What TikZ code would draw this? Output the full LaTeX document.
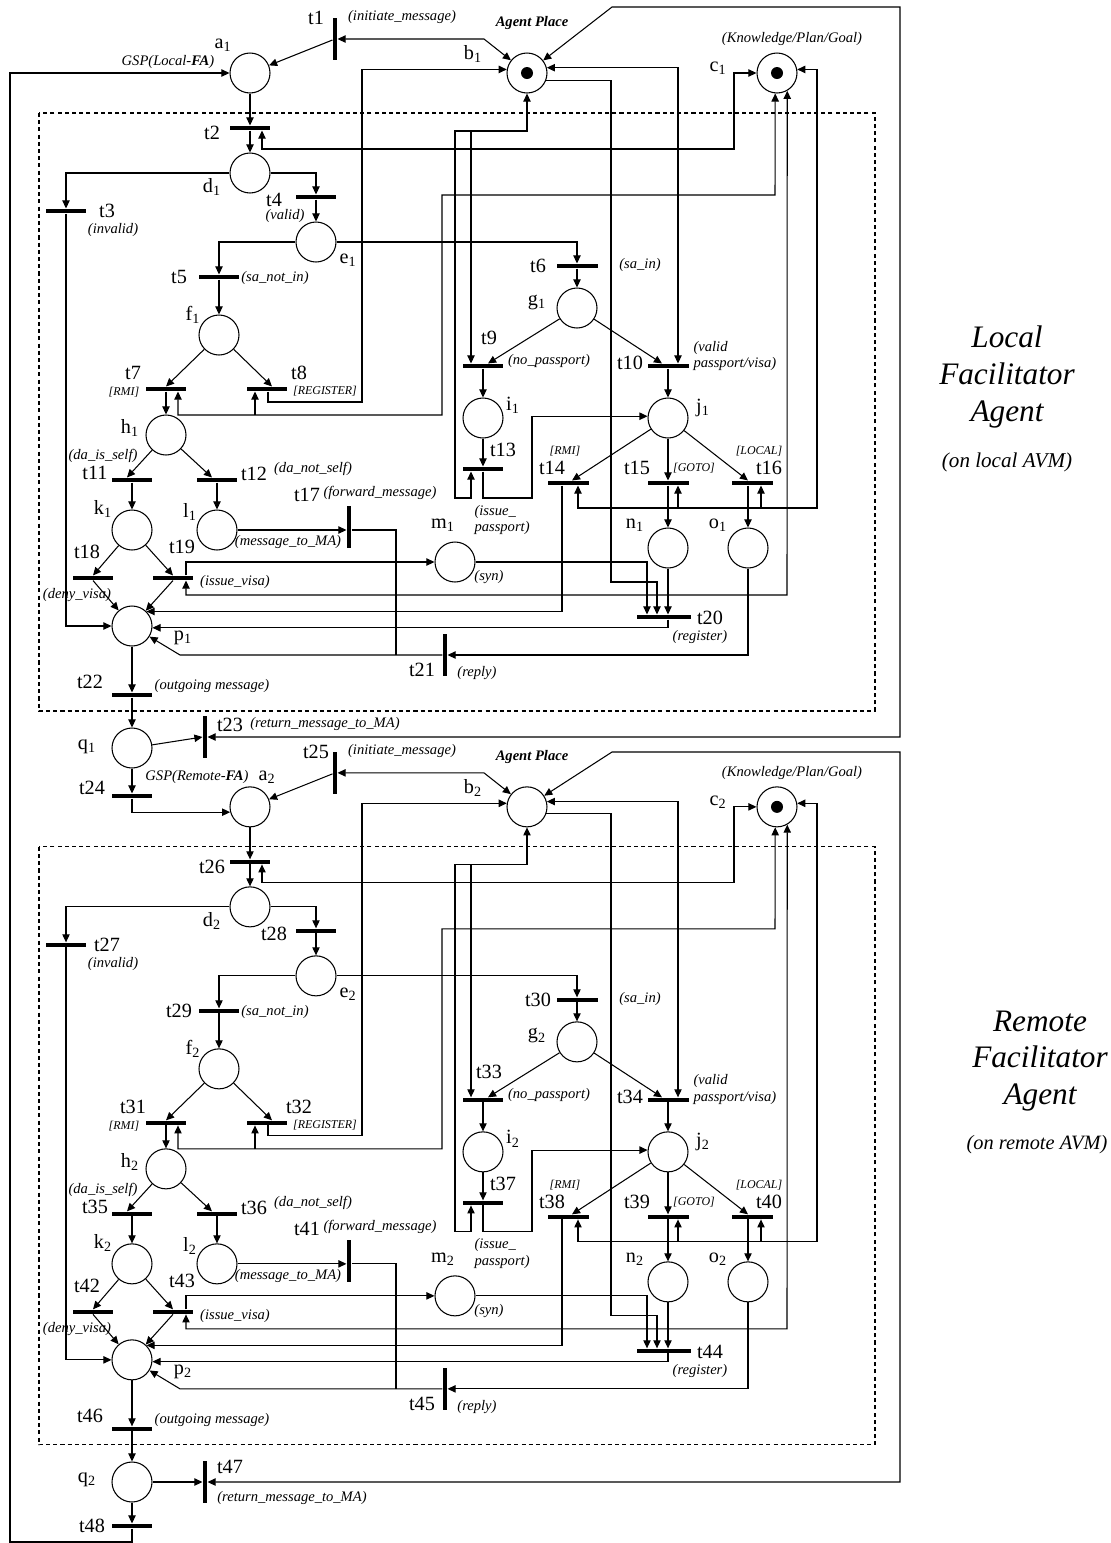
\documentclass[tikz,border=0pt]{standalone}
\usepackage{fontspec}
\setmainfont{Liberation Serif}
\usepackage{tikz}
\usetikzlibrary{arrows.meta}
\newcommand{\tnum}[1]{t\the\numexpr#1+\tofs\relax}

\begin{document}
\begin{tikzpicture}[
  x=0.02cm, y=-0.02cm,
  >={Triangle[length=4.6pt, width=4.2pt]},
  line width=0.6pt,
  place/.style={circle, draw, line width=0.6pt, minimum size=0.8cm, inner sep=0pt},
  hbar/.style={rectangle, fill=black, inner sep=0pt, minimum width=0.82cm,
    minimum height=0.08cm},
  vbar/.style={rectangle, fill=black, inner sep=0pt, minimum width=0.08cm,
    minimum height=0.84cm},
  plab/.style={inner sep=0pt, font=\fontsize{11.5pt}{13pt}\selectfont},
  tlab/.style={inner sep=0pt, font=\fontsize{11.5pt}{13pt}\selectfont},
  note/.style={inner sep=0pt, font=\fontsize{8.3pt}{9.6pt}\selectfont\itshape},
  guard/.style={inner sep=0pt, font=\fontsize{6.8pt}{8pt}\selectfont\itshape},
  side/.style={align=center, inner sep=0pt,
    font=\fontsize{17.8pt}{21pt}\selectfont\itshape},
  agentbox/.style={dash pattern=on 2.3pt off 1.8pt, line width=0.6pt}
]
  \useasboundingbox (0,0) rectangle (1111,1543);

  % One facilitator agent net per half
  \foreach \hf/\tofs/\ys in {1/0/0, 2/24/-14.68}{
  \begin{scope}[yshift=\ys cm]
    \draw[agentbox] (39,113) rectangle (875,711);

    % Places
    \node[place] (a-\hf) at (250,73) {};
    \node[place] (b-\hf) at (527,73) {};
    \node[place] (c-\hf) at (777,73) {};
    \node[place] (d-\hf) at (250,173) {};
    \node[place] (e-\hf) at (316,242) {};
    \node[place] (f-\hf) at (219,335) {};
    \node[place] (g-\hf) at (577,308) {};
    \node[place] (h-\hf) at (166,435) {};
    \node[place] (i-\hf) at (483,418) {};
    \node[place] (j-\hf) at (668,418) {};
    \node[place] (k-\hf) at (132,530) {};
    \node[place] (l-\hf) at (217,530) {};
    \node[place] (m-\hf) at (455,562) {};
    \node[place] (n-\hf) at (668,548) {};
    \node[place] (o-\hf) at (748,548) {};
    \node[place] (p-\hf) at (132,626) {};
    \fill (c-\hf) circle (0.12cm);

    % Transitions
    \node[vbar] (t1-\hf) at (335,39) {};
    \node[hbar] (t2-\hf) at (250,128) {};
    \node[hbar] (t3-\hf) at (66,211) {};
    \node[hbar] (t4-\hf) at (316,197) {};
    \node[hbar] (t5-\hf) at (219,277) {};
    \node[hbar] (t6-\hf) at (577,266) {};
    \node[hbar] (t7-\hf) at (166,389) {};
    \node[hbar] (t8-\hf) at (267,389) {};
    \node[hbar] (t9-\hf) at (483,366) {};
    \node[hbar] (t10-\hf) at (668,366) {};
    \node[hbar] (t11-\hf) at (132,480) {};
    \node[hbar] (t12-\hf) at (217,480) {};
    \node[hbar] (t13-\hf) at (483,469) {};
    \node[hbar] (t14-\hf) at (568,483) {};
    \node[hbar] (t15-\hf) at (668,483) {};
    \node[hbar] (t16-\hf) at (752,483) {};
    \node[vbar] (t17-\hf) at (349,527) {};
    \node[hbar] (t18-\hf) at (93,578) {};
    \node[hbar] (t19-\hf) at (173,578) {};
    \node[hbar, minimum width=1.08cm] (t20-\hf) at (664,617) {};
    \node[vbar] (t21-\hf) at (445,655) {};
    \node[hbar] (t22-\hf) at (132,695) {};

    % Arcs
    \draw[->] (t1-\hf) -- (a-\hf);
    \draw[<->] (t1-\hf.east) -- (484,39) -- (b-\hf);
    \draw[->] (a-\hf) -- (t2-\hf.north);
    \draw[->] (t2-\hf) -- (d-\hf);
    \draw[<->] (t2-\hf.south -| 262,0) |- (734,149) |- (c-\hf.west);
    \draw[->] (d-\hf) -| (t3-\hf.north);
    \draw[->] (t3-\hf.south) |- (p-\hf);
    \draw[->] (d-\hf) -| (t4-\hf.north);
    \draw[->] (t4-\hf) -- (e-\hf);
    \draw[->] (e-\hf) -| (t5-\hf.north);
    \draw[->] (t5-\hf) -- (f-\hf);
    \draw[->] (e-\hf) -| (t6-\hf.north);
    \draw[->] (t6-\hf) -- (g-\hf);
    \draw[->] (g-\hf) -- (t9-\hf.north -| 488,0);
    \draw[->] (g-\hf) -- (t10-\hf.north -| 662,0);

    \draw[<->] (b-\hf) |- (455,131) -- (455,498) -| (t13-\hf.south -| 471,0);
    \coordinate (bt-\hf) at (471,131);
    \draw[->] (bt-\hf) -- (bt-\hf |- t9-\hf.north);
    \draw[<->] (b-\hf.15) -| (t10-\hf.north -| 678,0);
    \draw[->] (b-\hf.-20) -| (611,582) -| (t20-\hf.north -| 657,0);
    \draw[->] (t8-\hf.south -| 268,0) |- (362,402) |- (b-\hf.170);

    \draw[->] (f-\hf) -- (t7-\hf.north);
    \draw[->] (f-\hf) -- (t8-\hf.north -| 272,0);
    \draw[->] (t7-\hf) -- (h-\hf);
    \draw[<->] (t7-\hf.south -| 178,0) |- (442,415) |- (775,195) -- (c-\hf.265);
    \coordinate (ct-\hf) at (255,415);
    \draw[->] (ct-\hf) -- (ct-\hf |- t8-\hf.south);

    \draw[->] (h-\hf) -- (t11-\hf.north -| 127,0);
    \draw[->] (h-\hf) -- (t12-\hf.north -| 212,0);
    \draw[->] (t11-\hf) -- (k-\hf);
    \draw[->] (t12-\hf) -- (l-\hf);
    \draw[->] (l-\hf) -- (l-\hf -| t17-\hf.west);
    \draw (l-\hf -| t17-\hf.east) -| (396,655);

    \draw[->] (k-\hf) -- (t18-\hf.north);
    \draw[->] (k-\hf) -- (t19-\hf.north);
    \draw[->] (t18-\hf.south) -- (p-\hf);
    \draw[->] (t19-\hf.south) -- (p-\hf);
    \draw[->] (t19-\hf.north -| 186,0) |- (m-\hf);
    \draw[<->] (t19-\hf.south -| 186,0) |- (787,595) -- (c-\hf.300);

    \draw[->] (t9-\hf) -- (i-\hf);
    \draw[->] (i-\hf) -- (t13-\hf.north);
    \draw[->] (t13-\hf.south) |- (532,498) |- (j-\hf.175);
    \draw[->] (t10-\hf) -- (j-\hf);
    \draw[->] (j-\hf) -- (t14-\hf.north -| 572,0);
    \draw[->] (j-\hf) -- (t15-\hf.north);
    \draw[->] (j-\hf) -- (t16-\hf.north -| 748,0);
    \draw[->] (t15-\hf) -- (n-\hf);
    \draw[->] (t16-\hf.south -| 748,0) -- (o-\hf);
    \draw[<->] (t14-\hf.south -| 578,0) |- (817,508) |- (c-\hf.10);
    \coordinate (cn-\hf) at (678,508);
    \coordinate (co-\hf) at (761,508);
    \draw[->] (cn-\hf) -- (cn-\hf |- t15-\hf.south);
    \draw[->] (co-\hf) -- (co-\hf |- t16-\hf.south);

    \draw[->] (m-\hf) -| (t20-\hf.north -| 647,0);
    \draw[->] (n-\hf) -- (n-\hf |- t20-\hf.north);
    \draw[->] (t14-\hf.south -| 562,0) |- (p-\hf.45);
    \draw[->] (t20-\hf.south -| 668,0) |- (p-\hf.-5);
    \draw[->] (o-\hf) |- (t21-\hf.east);
    \draw[->] (t21-\hf.west) -- (180,655) -- (p-\hf);
    \draw[->] (p-\hf) -- (t22-\hf.north);

    % Place names
    \node[plab] (nb-\hf) at (473,54) {b\textsubscript{\hf}};
    \node[plab] (nc-\hf) at (718,68) {c\textsubscript{\hf}};
    \node[plab] (nd-\hf) at (212,187) {d\textsubscript{\hf}};
    \node[plab] (ne-\hf) at (348,260) {e\textsubscript{\hf}};
    \node[plab] (nf-\hf) at (193,315) {f\textsubscript{\hf}};
    \node[plab] (ng-\hf) at (537,302) {g\textsubscript{\hf}};
    \node[plab] (nh-\hf) at (130,428) {h\textsubscript{\hf}};
    \node[plab] (ni-\hf) at (513,405) {i\textsubscript{\hf}};
    \node[plab] (nj-\hf) at (703,408) {j\textsubscript{\hf}};
    \node[plab] (nk-\hf) at (103,509) {k\textsubscript{\hf}};
    \node[plab] (nl-\hf) at (190,512) {l\textsubscript{\hf}};
    \node[plab] (nm-\hf) at (443,525) {m\textsubscript{\hf}};
    \node[plab] (nn-\hf) at (635,525) {n\textsubscript{\hf}};
    \node[plab] (no-\hf) at (718,525) {o\textsubscript{\hf}};
    \node[plab] (np-\hf) at (183,638) {p\textsubscript{\hf}};

    % Transition names
    \node[tlab] (nt1-\hf) at (316,18) {\tnum{1}};
    \node[tlab] (nt2-\hf) at (212,133) {\tnum{2}};
    \node[tlab] (nt3-\hf) at (107,211) {\tnum{3}};
    \node[tlab] (nt4-\hf) at (274,200) {\tnum{4}};
    \node[tlab] (nt5-\hf) at (179,277) {\tnum{5}};
    \node[tlab] (nt6-\hf) at (538,266) {\tnum{6}};
    \node[tlab] (nt7-\hf) at (133,373) {\tnum{7}};
    \node[tlab] (nt8-\hf) at (299,373) {\tnum{8}};
    \node[tlab] (nt9-\hf) at (489,338) {\tnum{9}};
    \node[tlab] (nt10-\hf) at (630,363) {\tnum{10}};
    \node[tlab] (nt11-\hf) at (95,473) {\tnum{11}};
    \node[tlab] (nt12-\hf) at (254,474) {\tnum{12}};
    \node[tlab] (nt13-\hf) at (503,450) {\tnum{13}};
    \node[tlab] (nt14-\hf) at (552,468) {\tnum{14}};
    \node[tlab] (nt15-\hf) at (637,468) {\tnum{15}};
    \node[tlab] (nt16-\hf) at (769,468) {\tnum{16}};
    \node[tlab] (nt17-\hf) at (307,495) {\tnum{17}};
    \node[tlab] (nt18-\hf) at (87,552) {\tnum{18}};
    \node[tlab] (nt19-\hf) at (182,547) {\tnum{19}};
    \node[tlab] (nt20-\hf) at (710,618) {\tnum{20}};
    \node[tlab] (nt21-\hf) at (422,670) {\tnum{21}};
    \node[tlab] (nt22-\hf) at (90,682) {\tnum{22}};

    % Annotations
    \node[note] (ninit-\hf) at (402,17) {(initiate\_message)};
    \node[note, font=\fontsize{8.3pt}{9.6pt}\selectfont\bfseries\itshape]
      (nagent-\hf) at (532,23) {Agent Place};
    \node[note] (nknow-\hf) at (792,39) {(Knowledge/Plan/Goal)};
    \node[note] (ninv-\hf) at (113,230) {(invalid)};
    \node[note] (nsanot-\hf) at (275,278) {(sa\_not\_in)};
    \node[note] (nsain-\hf) at (640,265) {(sa\_in)};
    \node[note] (nnopass-\hf) at (549,361) {(no\_passport)};
    \node[note, anchor=west, align=left] (nvpass-\hf) at (693,356)
      {(valid\\passport/visa)};
    \node[note] (nself-\hf) at (103,456) {(da\_is\_self)};
    \node[note] (nnself-\hf) at (313,469) {(da\_not\_self)};
    \node[note] (nfwd-\hf) at (380,493) {(forward\_message)};
    \node[note] (nmsg-\hf) at (288,542) {(message\_to\_MA)};
    \node[note] (ndeny-\hf) at (77,595) {(deny\_visa)};
    \node[note] (nvisa-\hf) at (235,582) {(issue\_visa)};
    \node[note] (nsyn-\hf) at (489,577) {(syn)};
    \node[note, anchor=west, align=left] (nipass-\hf) at (474,520)
      {(issue\_\\passport)};
    \node[note] (nreg-\hf) at (700,637) {(register)};
    \node[note] (nreply-\hf) at (477,673) {(reply)};
    \node[note] (nout-\hf) at (212,686) {(outgoing message)};
    \node[guard] (nrmi-\hf) at (124,392) {[RMI]};
    \node[guard] (nregs-\hf) at (325,391) {[REGISTER]};
    \node[guard] (nrmib-\hf) at (565,451) {[RMI]};
    \node[guard] (ngoto-\hf) at (694,468) {[GOTO]};
    \node[guard] (nlocal-\hf) at (759,451) {[LOCAL]};
  \end{scope}
  }
  \fill (b-1) circle (0.12cm);
  \node[note] (nvalid) at (285,216) {(valid)};
  \node[plab] (na-1) at (223,45) {a\textsubscript{1}};
  \node[plab] (na-2) at (267,777) {a\textsubscript{2}};

  % Hand-over places between the two agents
  \node[place] (q-1) at (132,748) {};
  \node[vbar] (t23) at (205,737) {};
  \node[hbar] (t24) at (132,796) {};
  \node[place] (q-2) at (132,1482) {};
  \node[vbar] (t47) at (205,1482) {};
  \node[hbar] (t48) at (132,1526) {};

  \draw[->] (t22-1) -- (q-1);
  \draw[->] (q-1) -- (t23.west);
  \draw[<->] (t23.east) -| (900,7) -- (612,7) -- (b-1);
  \draw[->] (q-1) -- (t24.north);
  \draw[->] (t24.south) |- (a-2.195);
  \draw[->] (t22-2) -- (q-2);
  \draw[->] (q-2) -- (t47.west);
  \draw[<->] (t47.east) -| (900,752) -- (612,752) -- (b-2);
  \draw[->] (q-2) -- (t48.north);
  \draw[->] (t48.south) |- (10,1542) |- (a-1.west);

  \node[plab] (nq-1) at (87,747) {q\textsubscript{1}};
  \node[plab] (nq-2) at (87,1480) {q\textsubscript{2}};
  \node[tlab] (nt23) at (230,725) {t23};
  \node[tlab] (nt24) at (92,788) {t24};
  \node[tlab] (nt47) at (230,1467) {t47};
  \node[tlab] (nt48) at (92,1526) {t48};
  \node[note] (nret-1) at (325,724) {(return\_message\_to\_MA)};
  \node[note] (nret-2) at (292,1498) {(return\_message\_to\_MA)};
  \node[note] (ngsp-1) at (168,62) {GSP(Local-\textbf{FA})};
  \node[note] (ngsp-2) at (197,777) {GSP(Remote-\textbf{FA})};

  % Agent captions
  \node[side] (nlocal) at (1007,377) {Local\\Facilitator\\Agent};
  \node[note, font=\fontsize{12pt}{14pt}\selectfont\itshape] (nlavm) at (1007,462)
    {(on local AVM)};
  \node[side] (nremote) at (1040,1061) {Remote\\Facilitator\\Agent};
  \node[note, font=\fontsize{11.6pt}{14pt}\selectfont\itshape] (nravm) at (1037,1145)
    {(on remote AVM)};
\end{tikzpicture}
\end{document}
